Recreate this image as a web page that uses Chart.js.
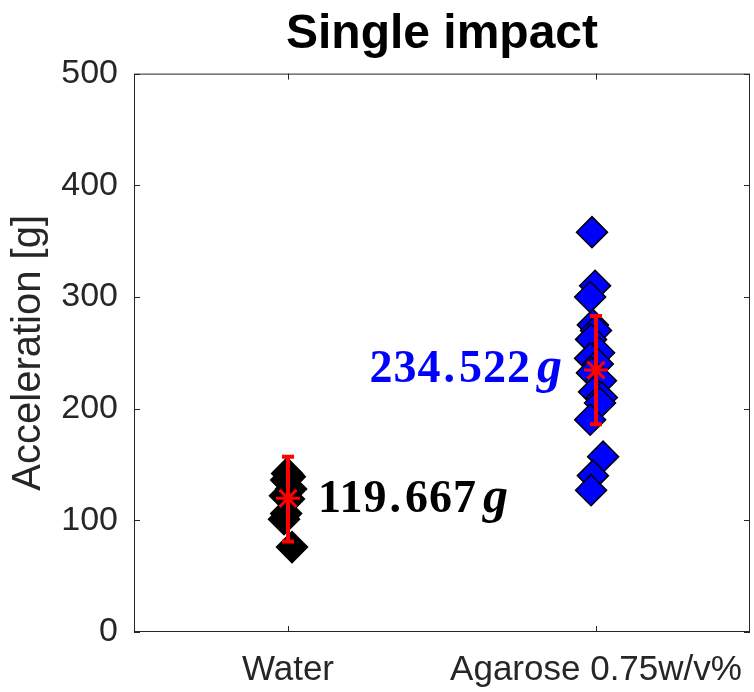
<!DOCTYPE html>
<html>
<head>
<meta charset="utf-8">
<script src="https://cdn.jsdelivr.net/npm/chart.js@4"></script>
<style>
  html, body { margin: 0; padding: 0; background: #fff; }
  #wrap { width: 754px; height: 692px; }
</style>
</head>
<body>
<div id="wrap"><canvas id="myChart" width="754" height="692"></canvas></div>
<script>
// categories and values
const categories = ["Water", "Agarose 0.75w/v%"];
const waterValues = [142, 139, 136, 128, 122, 119, 106, 101, 76];
const waterJitter = [-0.003, 0.006, -0.006, 0.01, -0.01, 0.003, -0.006, -0.013, 0.013];
const agaroseValues = [358, 310, 300, 275, 270, 262, 250, 245, 240, 232, 225, 215, 210, 205, 190, 157, 140, 127];
const agaroseJitter = [-0.013, -0.003, -0.019, -0.01, 0, -0.016, 0.01, -0.019, 0.006, -0.013, 0.016, -0.006, 0.019, 0.013, -0.019, 0.023, -0.01, -0.016];
const means = [119.667, 234.522];
const errLow = [81, 186];
const errHigh = [157, 283];
const meanLabels = [["119", "667"], ["234", "522"]];
const yTicks = [0, 100, 200, 300, 400, 500];

const axisColor = "#262626";

function toPoints(cat, vals, jit) {
  return vals.map((v, i) => ({ x: cat + jit[i], y: v }));
}

// inner tick marks + box, MATLAB style
const boxPlugin = {
  id: "box",
  afterDraw(chart) {
    const ctx = chart.ctx;
    const a = chart.chartArea;
    const xs = chart.scales.x;
    const ys = chart.scales.y;
    ctx.save();
    ctx.strokeStyle = axisColor;
    ctx.lineWidth = 1;
    ctx.strokeRect(a.left + 0.5, a.top + 0.5, a.right - a.left - 1, a.bottom - a.top - 1);
    ctx.beginPath();
    yTicks.forEach((t) => {
      const y = Math.round(ys.getPixelForValue(t)) + 0.5;
      ctx.moveTo(a.left, y); ctx.lineTo(a.left + 6, y);
      ctx.moveTo(a.right, y); ctx.lineTo(a.right - 6, y);
    });
    [1, 2].forEach((t) => {
      const x = Math.round(xs.getPixelForValue(t)) + 0.5;
      ctx.moveTo(x, a.bottom); ctx.lineTo(x, a.bottom - 6);
      ctx.moveTo(x, a.top); ctx.lineTo(x, a.top + 6);
    });
    ctx.stroke();
    ctx.restore();
  }
};

// draws "119.667g" style text, math-ish spacing; returns width
function mathLabel(ctx, parts, x, y, dry) {
  const numFont = "bold 46px 'Liberation Serif', serif";
  const gFont = "italic bold 50px 'Liberation Serif', serif";
  let cx = x;
  ctx.font = numFont;
  ctx.letterSpacing = "1px";
  if (!dry) ctx.fillText(parts[0], cx, y);
  cx += ctx.measureText(parts[0]).width;
  ctx.letterSpacing = "0px";
  cx += 2;
  if (!dry) ctx.fillText(".", cx, y);
  cx += ctx.measureText(".").width + 4;
  ctx.letterSpacing = "1px";
  if (!dry) ctx.fillText(parts[1], cx, y);
  cx += ctx.measureText(parts[1]).width;
  ctx.letterSpacing = "0px";
  cx += 6;
  ctx.font = gFont;
  if (!dry) ctx.fillText("g", cx, y);
  cx += ctx.measureText("g").width;
  return cx - x;
}

// mean value text next to each group
const labelPlugin = {
  id: "meanText",
  afterDatasetsDraw(chart) {
    const ctx = chart.ctx;
    const xs = chart.scales.x;
    const ys = chart.scales.y;
    ctx.save();
    ctx.textBaseline = "alphabetic";
    // water: to the right of the bar
    ctx.fillStyle = "#000000";
    mathLabel(ctx, meanLabels[0], xs.getPixelForValue(1) + 30, ys.getPixelForValue(means[0]) + 14, false);
    // agarose: to the left of the bar
    ctx.fillStyle = "#0000ff";
    const w = mathLabel(ctx, meanLabels[1], 0, 0, true);
    mathLabel(ctx, meanLabels[1], xs.getPixelForValue(2) - 34 - w, ys.getPixelForValue(means[1]) + 12, false);
    ctx.restore();
  }
};

const ctx = document.getElementById("myChart").getContext("2d");
const chart = new Chart(ctx, {
  type: "scatter",
  data: {
    datasets: [
      {
        label: "mean",
        data: means.map((m, i) => ({ x: i + 1, y: m })),
        pointStyle: "star",
        pointRadius: 12,
        borderColor: "#ff0000",
        borderWidth: 3,
        backgroundColor: "#ff0000",
      },
      {
        label: "err water",
        type: "line",
        data: [{ x: 1, y: errLow[0] }, { x: 1, y: errHigh[0] }],
        borderColor: "#ff0000",
        borderWidth: 4,
        pointStyle: "line",
        pointRadius: 6,
        pointBorderWidth: 4,
        pointBorderColor: "#ff0000",
      },
      {
        label: "err agarose",
        type: "line",
        data: [{ x: 2, y: errLow[1] }, { x: 2, y: errHigh[1] }],
        borderColor: "#ff0000",
        borderWidth: 4,
        pointStyle: "line",
        pointRadius: 6,
        pointBorderWidth: 4,
        pointBorderColor: "#ff0000",
      },
      {
        label: categories[1],
        data: toPoints(2, agaroseValues, agaroseJitter),
        pointStyle: "rectRot",
        pointRadius: 15.5,
        backgroundColor: "#0000ff",
        borderColor: "#000000",
        borderWidth: 1.5,
      },
      {
        label: categories[0],
        data: toPoints(1, waterValues, waterJitter),
        pointStyle: "rectRot",
        pointRadius: 15.5,
        backgroundColor: "#000000",
        borderColor: "#000000",
        borderWidth: 1.5,
      },
    ],
  },
  options: {
    responsive: false,
    animation: false,
    events: [],
    layout: { autoPadding: false, padding: { right: 4, top: 0, bottom: 0, left: 0 } },
    plugins: {
      legend: { display: false },
      tooltip: { enabled: false },
      title: {
        display: true,
        text: "Single impact",
        fullSize: false,
        color: "#000000",
        font: { family: "'Liberation Sans', Arial, sans-serif", size: 48, weight: "bold" },
        padding: { top: 6, bottom: 10 },
      },
    },
    scales: {
      x: {
        type: "linear",
        min: 0.5,
        max: 2.5,
        grid: { display: false, drawTicks: false },
        border: { display: false },
        afterBuildTicks(scale) {
          scale.ticks = [{ value: 1 }, { value: 2 }];
        },
        afterFit(scale) {
          scale.height = 60;
          scale.paddingLeft = 0;
          scale.paddingRight = 0;
        },
        ticks: {
          padding: 17,
          color: axisColor,
          font: { family: "'Liberation Sans', Arial, sans-serif", size: 35 },
          maxRotation: 0,
          autoSkip: false,
          callback: (v) => categories[v - 1],
        },
      },
      y: {
        min: 0,
        max: 500,
        grid: { display: false, drawTicks: false },
        border: { display: false },
        afterBuildTicks(scale) {
          scale.ticks = yTicks.map((v) => ({ value: v }));
        },
        afterFit(scale) {
          scale.width = 134;
          scale.paddingTop = 0;
          scale.paddingBottom = 0;
        },
        ticks: {
          padding: 16,
          color: axisColor,
          font: { family: "'Liberation Sans', Arial, sans-serif", size: 34 },
        },
        title: {
          display: true,
          text: "Acceleration [g]",
          color: axisColor,
          font: { family: "'Liberation Sans', Arial, sans-serif", size: 40 },
          padding: { top: 5, bottom: 0 },
        },
      },
    },
  },
  plugins: [boxPlugin, labelPlugin],
});
</script>
</body>
</html>
